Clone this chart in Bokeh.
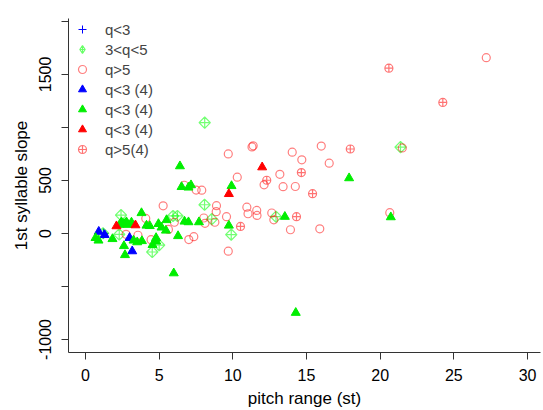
import math
from bokeh.plotting import figure
from bokeh.models import FixedTicker, Legend, LegendItem, Range1d
from bokeh.embed import file_html
from bokeh.resources import INLINE

# ---- data (pitch range in st, 1st syllable slope) ----
q_lt3_x = [1.22]
q_lt3_y = [0]

q_3to5_x = [8.09, 21.38, 8.08, 8.57, 9.89, 5.94, 6.24, 2.41, 2.29, 5.00, 4.53, 1.19, 12.93]
q_3to5_y = [1045, 814, 271, 135, -11, 165, 165, 173, -9, -110, -175, 2, 158]

q_gt5_x = [9.69, 11.30, 11.38, 14.03, 16.00, 14.68, 16.54, 10.30, 13.19, 12.12, 13.41, 14.24,
           6.70, 7.51, 7.89, 5.27, 8.89, 8.87, 10.95, 11.03, 11.62, 11.64, 12.64, 12.78,
           9.57, 8.03, 8.11, 8.78, 7.35, 7.01, 13.91, 15.90, 9.69, 4.09, 6.03, 5.63,
           4.45, 2.75, 3.56, 27.20, 20.65, 21.50]
q_gt5_y = [750, 816, 827, 767, 824, 695, 663, 531, 558, 459, 441, 443,
           455, 409, 408, 261, 262, 206, 248, 186, 217, 170, 193, 129,
           158, 146, 96, 106, -30, -58, 35, 44, -167, 142, 106, 38,
           -59, -8, -17, 1658, 196, 807]

tri_blue_x = [0.90, 1.30, 2.99, 3.17]
tri_blue_y = [17, -14, -41, -167]

tri_green_x = [6.41, 6.52, 6.99, 7.16, 9.91, 3.80, 2.44, 2.78, 3.12, 2.31, 2.61, 2.88, 4.14,
               4.36, 4.95, 5.16, 5.50, 5.46, 6.72, 6.99, 7.70, 9.73, 6.28, 4.79, 4.80,
               3.83, 3.26, 3.51, 1.83, 0.68, 0.88, 2.61, 2.68, 4.55, 5.99, 14.27, 17.89,
               20.72, 13.53]
tri_green_y = [635, 439, 434, 456, 448, 193, 107, 107, 104, 82, 92, 82, 75,
               71, 90, 57, 127, 28, 113, 107, 107, 75, -24, -42, -75,
               -71, -66, -82, -52, -42, -66, -118, -203, -108, -375, -748, 522,
               154, 158]

tri_red_x = [11.99, 9.73, 2.10, 3.39]
tri_red_y = [625, 373, 69, 78]

q_gt5_4_x = [20.59, 24.25, 17.97, 14.65, 15.41, 12.30, 14.32, 10.52]
q_gt5_4_y = [1559, 1236, 797, 574, 375, 502, 158, 66]

x_ticks = [0, 5, 10, 15, 20, 25, 30]
y_ticks = [-1000, -500, 0, 500, 1000, 1500, 2000]
y_tick_labels = {-1000: "-1000", -500: "", 0: "0", 500: "500", 1000: "", 1500: "1500", 2000: ""}

FONT = "Liberation Sans"

p = figure(width=543, height=410,
           x_range=Range1d(-1.154, 30.88), y_range=Range1d(-1123, 2028),
           output_backend="svg", toolbar_location=None,
           min_border_left=68, min_border_right=3, min_border_top=18, min_border_bottom=58)
# a range that keeps the legend-only copy of the diamonds out of view
p.extra_y_ranges = {"legend_only": Range1d(100000, 200000)}

p.xgrid.visible = False
p.ygrid.visible = False
p.outline_line_color = None
p.background_fill_color = "white"
p.border_fill_color = "white"

r_cross = p.scatter(q_lt3_x, q_lt3_y, marker="cross", size=10, line_color="#0000FF", line_width=1)
r_diam = p.scatter(q_3to5_x, q_3to5_y, marker="square_x", size=8, angle=math.pi / 4,
                   fill_color=None, line_color="#00FF00", line_alpha=0.55, line_width=1.2)
r_leg_d = p.scatter(q_3to5_x, q_3to5_y, y_range_name="legend_only", marker="diamond_cross",
                    size=10, fill_color=None, line_color="#00FF00", line_alpha=0.6, line_width=1.2)
r_circ = p.scatter(q_gt5_x, q_gt5_y, marker="circle", size=8, fill_color=None,
                   line_color="#FF0000", line_alpha=0.5, line_width=1.2)
r_tb = p.scatter(tri_blue_x, tri_blue_y, marker="triangle", size=9, fill_color="#0000FF",
                 line_color="#0000FF")
r_tg = p.scatter(tri_green_x, tri_green_y, marker="triangle", size=9, fill_color="#00EE00",
                 line_color="#00EE00")
r_tr = p.scatter(tri_red_x, tri_red_y, marker="triangle", size=9, fill_color="#FF0000",
                 line_color="#FF0000")
r_cc = p.scatter(q_gt5_4_x, q_gt5_4_y, marker="circle_cross", size=8, fill_color=None,
                 line_color="#FF0000", line_alpha=0.55, line_width=1.2)

legend = Legend(items=[
    LegendItem(label="q<3", renderers=[r_cross]),
    LegendItem(label="3<q<5", renderers=[r_leg_d]),
    LegendItem(label="q>5", renderers=[r_circ]),
    LegendItem(label="q<3 (4)", renderers=[r_tb]),
    LegendItem(label="q<3 (4)", renderers=[r_tg]),
    LegendItem(label="q<3 (4)", renderers=[r_tr]),
    LegendItem(label="q>5(4)", renderers=[r_cc]),
], location=(4, 193), background_fill_alpha=0, border_line_alpha=0,
    label_text_font=FONT, label_text_font_size="15px", label_standoff=13,
    glyph_width=20, glyph_height=20, label_height=20, spacing=0, padding=0, margin=0)
p.add_layout(legend)

for ax in (p.xaxis[0], p.yaxis[0]):
    ax.axis_line_color = "#333333"
    ax.major_tick_line_color = "#333333"
    ax.major_tick_out = 7
    ax.major_tick_in = 0
    ax.minor_tick_line_color = None
    ax.major_label_text_font = FONT
    ax.major_label_text_font_size = "16px"
    ax.major_label_text_color = "black"
    ax.axis_label_text_font = FONT
    ax.axis_label_text_font_size = "17px"
    ax.axis_label_text_font_style = "normal"
    ax.axis_label_text_color = "black"

p.xaxis.ticker = FixedTicker(ticks=x_ticks)
p.yaxis.ticker = FixedTicker(ticks=y_ticks)
p.yaxis.major_label_overrides = y_tick_labels
p.yaxis.major_label_orientation = "vertical"
p.xaxis.axis_label = "pitch range (st)"
p.yaxis.axis_label = "1st syllable slope"
p.xaxis.major_label_standoff = 9
p.xaxis.axis_label_standoff = 5
p.yaxis.major_label_standoff = 10
p.yaxis.axis_label_standoff = 6

open("out.html", "w").write(file_html(p, INLINE))
